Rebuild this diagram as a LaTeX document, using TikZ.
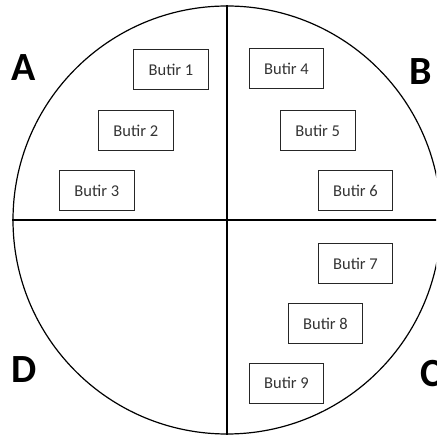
\documentclass[tikz,border=0pt]{standalone}
\usepackage{fontspec}
\setmainfont{Carlito}
\begin{document}
\begin{tikzpicture}[x=1pt,y=1pt,
  butir/.style={draw=black!85, line width=0.9pt, minimum width=74.5pt, minimum height=39.5pt, inner sep=0pt, font=\fontsize{16.5}{19}\selectfont, text=black!80},
  quad/.style={font=\bfseries\fontsize{40}{44}\selectfont, inner sep=0pt, anchor=center}]
\useasboundingbox (0,0) rectangle (436,436);
\clip (0,0) rectangle (436,436);
\node[draw, line width=1.2pt, circle, minimum size=428pt, inner sep=0pt] (c) at (227,216) {};
\draw[line width=1.1pt] (c.north) -- (c.south);
\draw[line width=1.1pt] (c.west) -- (c.east);
\node[butir] (b1) at (171,366.3) {Butir 1};
\node[butir] (b4) at (286.5,367.5) {Butir 4};
\node[butir] (b2) at (135.8,305.5) {Butir 2};
\node[butir] (b5) at (317.7,305.5) {Butir 5};
\node[butir] (b3) at (96.8,245.3) {Butir 3};
\node[butir] (b6) at (355.5,245.3) {Butir 6};
\node[butir] (b7) at (355.5,172.3) {Butir 7};
\node[butir] (b8) at (325.5,112.5) {Butir 8};
\node[butir] (b9) at (286.5,52.7) {Butir 9};
\node[quad] (A) at (24,368) {A};
\node[quad] (B) at (421,364) {B};
\node[quad] (D) at (24,66) {D};
\node[quad] (C) at (431,62) {C};
\end{tikzpicture}
\end{document}
